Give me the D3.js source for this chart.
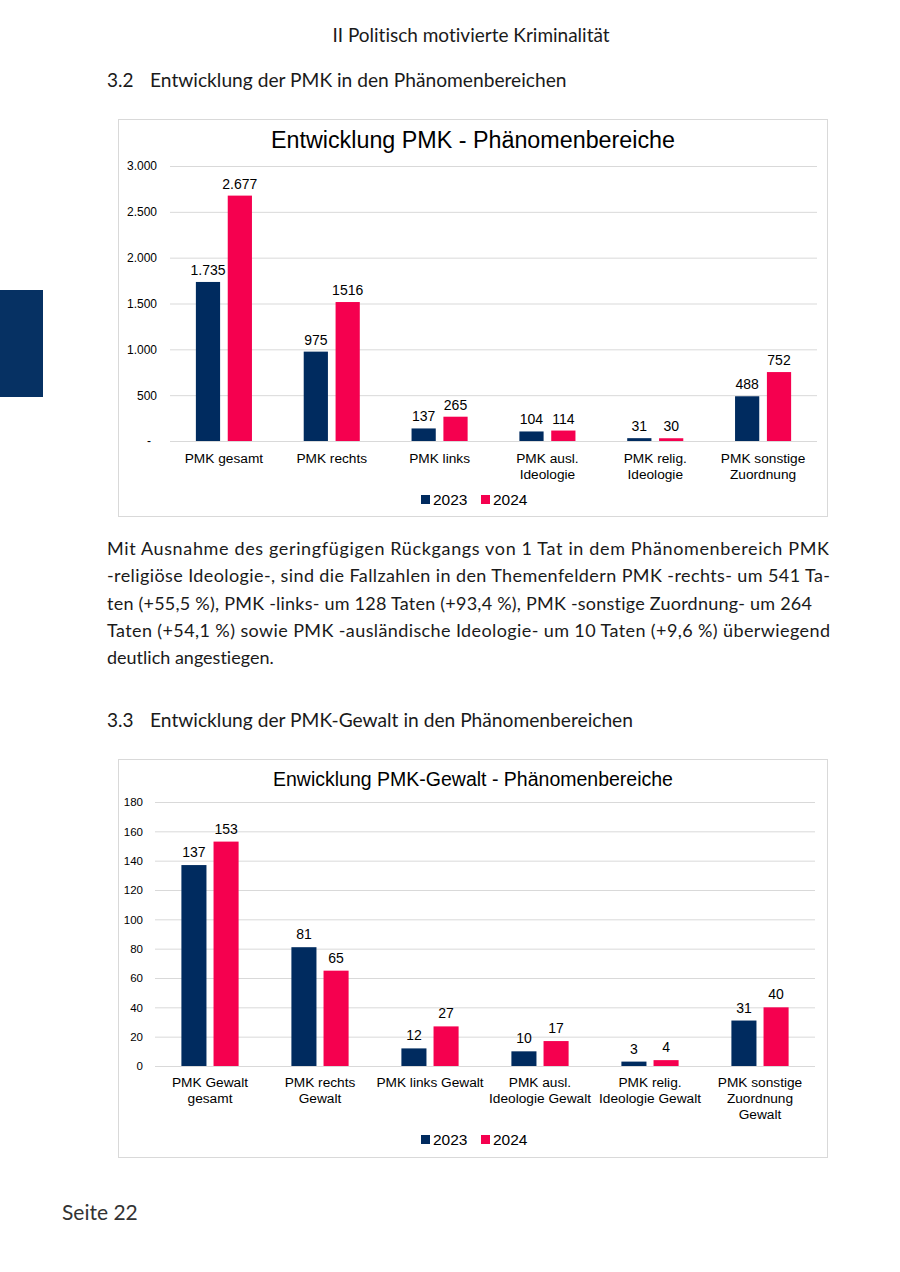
<!DOCTYPE html>
<html><head><meta charset="utf-8">
<script src="https://cdn.jsdelivr.net/npm/d3@7"></script>
<style>
html,body{margin:0;padding:0;background:#fff;}
svg{display:block;}
text{font-variant-ligatures:none;font-feature-settings:"liga" 0;}
</style></head>
<body>
<script>
// ---------- Data ----------
const years = ["2023", "2024"];

const cats1 = [["PMK gesamt"], ["PMK rechts"], ["PMK links"], ["PMK ausl.", "Ideologie"], ["PMK relig.", "Ideologie"], ["PMK sonstige", "Zuordnung"]];
const values1_2023 = [1735, 975, 137, 104, 31, 488];
const values1_2024 = [2677, 1516, 265, 114, 30, 752];
const labels1_2023 = ["1.735", "975", "137", "104", "31", "488"];
const labels1_2024 = ["2.677", "1516", "265", "114", "30", "752"];
const ticks1 = [0, 500, 1000, 1500, 2000, 2500, 3000];
const tickLabels1 = ["-", "500", "1.000", "1.500", "2.000", "2.500", "3.000"];

const cats2 = [["PMK Gewalt", "gesamt"], ["PMK rechts", "Gewalt"], ["PMK links Gewalt"], ["PMK ausl.", "Ideologie Gewalt"], ["PMK relig.", "Ideologie Gewalt"], ["PMK sonstige", "Zuordnung", "Gewalt"]];
const values2_2023 = [137, 81, 12, 10, 3, 31];
const values2_2024 = [153, 65, 27, 17, 4, 40];
const ticks2 = [0, 20, 40, 60, 80, 100, 120, 140, 160, 180];

const paragraph = [
  "Mit Ausnahme des geringfügigen Rückgangs von 1 Tat in dem Phänomenbereich PMK",
  "-religiöse Ideologie-, sind die Fallzahlen in den Themenfeldern PMK -rechts- um 541 Ta-",
  "ten (+55,5 %), PMK -links- um 128 Taten (+93,4 %), PMK -sonstige Zuordnung- um 264",
  "Taten (+54,1 %) sowie PMK -ausländische Ideologie- um 10 Taten (+9,6 %) überwiegend",
  "deutlich angestiegen."
];
const paraWidths = [722, 723, 705, 723, null];

// ---------- Styles ----------
const C2023 = "#002b5f", C2024 = "#f5004f";
const pageFont = "Lato, 'Open Sans', sans-serif";
const chartFont = "'Liberation Sans', Arial, sans-serif";

const svg = d3.select("body").append("svg").attr("width", 900).attr("height", 1272);

// left marker
svg.append("rect").attr("x", 0).attr("y", 290).attr("width", 43).attr("height", 107).attr("fill", "#063163");

// header
svg.append("text").attr("x", 471).attr("y", 42).attr("text-anchor", "middle")
  .attr("font-family", pageFont).attr("font-size", 19).attr("fill", "#1a1a1a")
  .text("II Politisch motivierte Kriminalität");

function heading(y, num, txt) {
  svg.append("text").attr("x", 107).attr("y", y).attr("font-family", pageFont).attr("font-size", 19).attr("fill", "#1a1a1a").text(num);
  svg.append("text").attr("x", 150).attr("y", y).attr("font-family", pageFont).attr("font-size", 19.2).attr("fill", "#1a1a1a").text(txt);
}
heading(87, "3.2", "Entwicklung der PMK in den Phänomenbereichen");
heading(727, "3.3", "Entwicklung der PMK-Gewalt in den Phänomenbereichen");

// paragraph
paragraph.forEach((line, i) => {
  const t = svg.append("text").attr("x", 107).attr("y", 555 + i * 27.3)
    .attr("font-family", pageFont).attr("font-size", 18).attr("fill", "#1a1a1a").text(line);
  if (paraWidths[i]) t.attr("textLength", paraWidths[i]).attr("lengthAdjust", "spacing");
});

// footer
svg.append("text").attr("x", 62).attr("y", 1220).attr("font-family", pageFont).attr("font-size", 21).attr("fill", "#333").text("Seite 22");

// ---------- chart builder ----------
function drawChart(cfg) {
  const g = svg.append("g");
  g.append("rect").attr("x", cfg.box[0] + 0.5).attr("y", cfg.box[1] + 0.5)
    .attr("width", cfg.box[2]).attr("height", cfg.box[3])
    .attr("fill", "#fff").attr("stroke", "#d9d9d9");
  g.append("text").attr("x", cfg.titleX).attr("y", cfg.titleY).attr("text-anchor", "middle")
    .attr("font-family", chartFont).attr("font-size", cfg.titleSize).attr("fill", "#000").text(cfg.title);

  const y = d3.scaleLinear().domain([0, cfg.yMax]).range([cfg.y0, cfg.y1]);
  const x0 = d3.scaleBand().domain(d3.range(cfg.cats.length)).range([cfg.xL, cfg.xR]);
  const bw = x0.bandwidth();
  const x1 = d3.scaleBand().domain(years).range([bw / 2 - bw * cfg.groupFrac / 2, bw / 2 + bw * cfg.groupFrac / 2]).paddingInner(cfg.innerPad);

  // grid
  const yAxis = d3.axisLeft(y).tickValues(cfg.ticks).tickSize(-(cfg.xR - cfg.xL)).tickFormat((d, i) => cfg.tickLabels[i]);
  const ga = g.append("g").attr("transform", `translate(${cfg.xL},0)`).call(yAxis);
  ga.select(".domain").remove();
  ga.selectAll(".tick line").attr("stroke", "#d9d9d9").attr("stroke-width", 1);
  ga.selectAll(".tick text").attr("font-family", chartFont).attr("font-size", cfg.tickSize).attr("fill", "#000")
    .attr("x", cfg.tickX - cfg.xL).attr("dx", (d) => (d === 0 ? cfg.zeroDx : 0));

  const series = [
    { year: "2023", vals: cfg.v2023, labels: cfg.l2023, color: C2023 },
    { year: "2024", vals: cfg.v2024, labels: cfg.l2024, color: C2024 }
  ];
  series.forEach(s => {
    const sg = g.append("g");
    sg.selectAll("rect").data(s.vals).join("rect")
      .attr("x", (d, i) => x0(i) + x1(s.year))
      .attr("width", x1.bandwidth())
      .attr("y", d => y(d))
      .attr("height", d => y(0) - y(d))
      .attr("fill", s.color);
    sg.selectAll("text").data(s.vals).join("text")
      .attr("x", (d, i) => x0(i) + x1(s.year) + x1.bandwidth() / 2)
      .attr("y", d => y(d) - cfg.labelGap)
      .attr("text-anchor", "middle").attr("font-family", chartFont).attr("font-size", 14).attr("fill", "#000")
      .text((d, i) => s.labels[i]);
  });

  // category labels
  cfg.cats.forEach((lines, i) => {
    const t = g.append("text").attr("x", x0(i) + bw / 2).attr("y", cfg.catY)
      .attr("text-anchor", "middle").attr("font-family", chartFont).attr("font-size", 13.7).attr("fill", "#000");
    lines.forEach((ln, j) => t.append("tspan").attr("x", x0(i) + bw / 2).attr("dy", j === 0 ? 0 : 16).text(ln));
  });

  // legend
  const lg = g.append("g").attr("transform", `translate(${cfg.legendX},${cfg.legendY})`);
  series.forEach((s, i) => {
    lg.append("rect").attr("x", i * 60).attr("y", -10).attr("width", 9).attr("height", 9).attr("fill", s.color);
    lg.append("text").attr("x", i * 60 + 12).attr("y", 0).attr("font-family", chartFont).attr("font-size", 15.5).attr("fill", "#000").text(s.year);
  });
}

drawChart({
  box: [118, 119, 709, 397],
  title: "Entwicklung PMK - Phänomenbereiche", titleX: 473, titleY: 148, titleSize: 23.3,
  cats: cats1, v2023: values1_2023, v2024: values1_2024, l2023: labels1_2023, l2024: labels1_2024,
  ticks: ticks1, tickLabels: tickLabels1, tickSize: 12, yMax: 3000, y0: 441, y1: 166,
  xL: 170, xR: 817, tickX: 157, zeroDx: -6, groupFrac: 0.52, innerPad: 0.24, labelGap: 7,
  catY: 463, legendX: 421, legendY: 505
});

drawChart({
  box: [118, 759, 709, 398],
  title: "Enwicklung PMK-Gewalt - Phänomenbereiche", titleX: 473, titleY: 786, titleSize: 19.5,
  cats: cats2, v2023: values2_2023, v2024: values2_2024, l2023: values2_2023.map(String), l2024: values2_2024.map(String),
  ticks: ticks2, tickLabels: ticks2.map(String), tickSize: 11.5, yMax: 180, y0: 1066, y1: 802,
  xL: 155, xR: 815, tickX: 143, zeroDx: 0, groupFrac: 0.52, innerPad: 0.22, labelGap: 8,
  catY: 1087, legendX: 421, legendY: 1145
});
</script>
</body></html>
